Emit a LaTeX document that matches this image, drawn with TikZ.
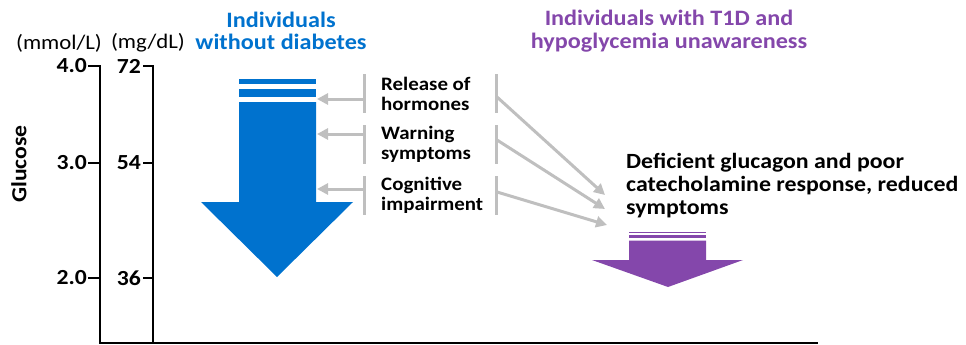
\documentclass[tikz,border=0pt]{standalone}
\usepackage{fontspec}
\setmainfont[FakeStretch=1.1]{Carlito}
\usepackage{xcolor}
\usetikzlibrary{arrows.meta,positioning,calc}
\definecolor{nodiab}{RGB}{0,114,206}
\definecolor{tonedeaf}{RGB}{132,71,171}
\definecolor{signal}{RGB}{191,191,191}

\begin{document}
\begin{tikzpicture}[x=1pt, y=-1pt,
    axisline/.style={line width=2.8pt, black},
    tick/.style={line width=2.4pt, black},
    ticklbl/.style={font=\fontsize{21.5}{22}\selectfont\bfseries, anchor=east, inner sep=0pt},
    unitlbl/.style={font=\fontsize{20.7}{22}\selectfont, inner sep=0pt},
    title/.style={font=\fontsize{22}{22.5}\selectfont\bfseries, align=center, inner sep=0pt},
    lbl/.style={font=\fontsize{19}{20}\selectfont\bfseries, align=left, anchor=west, inner sep=0pt},
    gbar/.style={line width=3pt, signal},
    garrow/.style={line width=3pt, signal, -{Triangle[length=11pt, width=11pt]}, shorten >=0pt}
]
\useasboundingbox (0,0) rectangle (966,345);

% Axes
\coordinate (mmolTop) at (100,66);
\coordinate (mgTop) at (153,66);
\coordinate (origin) at (100,343);
\coordinate (xEnd) at (818,343);
\draw[axisline] (mmolTop) -- (origin) -- (xEnd);
\draw[axisline] (mgTop) -- (mgTop |- origin);

\foreach \y/\mmol/\mg in {66/4.0/72, 163/3.0/54, 278/2.0/36} {
    \draw[tick] (88,\y) -- (101,\y);
    \draw[tick] (143,\y) -- (154,\y);
    \node[ticklbl] at (87,\y) {\mmol};
    \node[ticklbl] at (141,\y) {\mg};
}

\node[unitlbl] (mmol) at (59,43) {(mmol/L)};
\node[unitlbl] (mgdl) at (148,43) {(mg/dL)};
\node[font=\fontsize{21.5}{22}\selectfont\bfseries, rotate=90, inner sep=0pt] (glucose) at (19,164) {Glucose};

% Titles
\node[title, text=nodiab] (healthy) at (281,31) {Individuals\\without diabetes};
\node[title, text=tonedeaf] (t1d) at (669,31) {Individuals with T1D and\\hypoglycemia unawareness};

% Normal response arrow
\fill[nodiab] (239,79) rectangle (316,84);
\fill[nodiab] (239,89) rectangle (316,97);
\fill[nodiab] (239,102) -- (316,102) -- (316,202) -- (353,202)
    -- (277,277) -- (201,202) -- (239,202) -- cycle;

% Blunted response arrow
\fill[tonedeaf] (629,232) rectangle (706,233.2);
\fill[tonedeaf] (629,235) rectangle (706,237.5);
\fill[tonedeaf] (629,240.5) -- (706,240.5) -- (706,260) -- (743,260)
    -- (668,287) -- (592,260) -- (629,260) -- cycle;

% Responses
\node[lbl] (release) at (381,94) {Release of\\hormones};
\node[lbl] (warning) at (381,144) {Warning\\symptoms};
\node[lbl] (cognitive) at (381,195) {Cognitive\\impairment};

\node[font=\fontsize{21.7}{23}\selectfont\bfseries, align=left, anchor=north west, inner sep=0pt]
    (deficient) at (626,153) {Deficient glucagon and poor\\catecholamine response, reduced\\symptoms};

% Bars
\foreach \t/\b in {74/113, 125/164, 176/215} {
    \draw[gbar] (364,\t) -- (364,\b);
    \draw[gbar] (496,\t) -- (496,\b);
}

% Arrows to the glucose levels
\coordinate (relL) at (364,99);
\coordinate (warnL) at (364,134);
\coordinate (cogL) at (364,189);
\coordinate (relTip) at (317,99);
\coordinate (warnTip) at (317,134);
\coordinate (cogTip) at (317,189);
\draw[garrow] (relL) -- (relTip);
\draw[garrow] (warnL) -- (warnTip);
\draw[garrow] (cogL) -- (cogTip);

% Arrows to the T1D response
\coordinate (relR) at (497,97);
\coordinate (warnR) at (497,140);
\coordinate (cogR) at (497,192);
\coordinate (relEnd) at (605,195);
\coordinate (warnEnd) at (605,209);
\coordinate (cogEnd) at (607,225);
\draw[garrow] (relR) -- (relEnd);
\draw[garrow] (warnR) -- (warnEnd);
\draw[garrow] (cogR) -- (cogEnd);

\end{tikzpicture}
\end{document}
